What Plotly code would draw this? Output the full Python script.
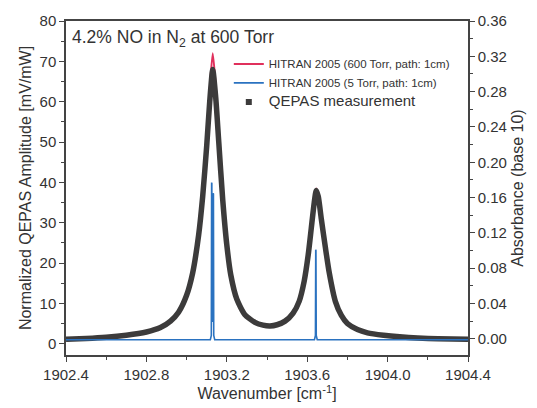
import plotly.graph_objects as go

# Wavenumber grid (cm^-1) and normalized QEPAS signal (mV/mW)
qepas_wn = [1902.40, 1902.50, 1902.60, 1902.70, 1902.80, 1902.87, 1902.92, 1902.96,
            1903.00, 1903.03, 1903.06, 1903.08, 1903.10, 1903.115, 1903.13, 1903.145,
            1903.16, 1903.18, 1903.20, 1903.22, 1903.25, 1903.29, 1903.34, 1903.38,
            1903.415, 1903.45, 1903.49, 1903.53, 1903.56, 1903.585, 1903.605, 1903.62,
            1903.635, 1903.645, 1903.655, 1903.67, 1903.69, 1903.71, 1903.74, 1903.77,
            1903.80, 1903.85, 1903.90, 1903.98, 1904.06, 1904.15, 1904.25, 1904.40]
qepas_amp = [1.1, 1.3, 1.6, 2.1, 2.9, 4.0, 5.6, 7.8,
             12.0, 17.5, 27.0, 36.5, 49.0, 60.0, 68.0, 61.0,
             50.0, 35.5, 24.5, 17.0, 11.0, 7.2, 5.3, 4.6,
             4.4, 4.7, 5.6, 7.6, 10.5, 15.5, 22.0, 28.5,
             35.0, 38.0, 36.5, 31.0, 24.0, 17.5, 10.5, 7.0,
             5.0, 3.5, 2.7, 2.1, 1.7, 1.4, 1.2, 1.1]

# HITRAN 2005 simulation, 600 Torr (scaled to the left axis)
hitran600_wn = qepas_wn
hitran600_amp = [1.2, 1.4, 1.7, 2.2, 3.0, 4.1, 5.7, 7.9,
                 12.2, 17.8, 27.5, 37.5, 51.0, 63.0, 72.0, 64.0,
                 52.0, 36.5, 25.0, 17.2, 11.1, 7.3, 5.3, 4.6,
                 4.4, 4.7, 5.6, 7.6, 10.6, 15.7, 22.3, 29.0,
                 35.5, 38.5, 37.0, 31.4, 24.3, 17.7, 10.6, 7.0,
                 5.0, 3.5, 2.6, 2.0, 1.6, 1.3, 1.1, 1.0]

# HITRAN 2005 simulation, 5 Torr (absorbance, right axis)
hitran5_wn = [1902.40, 1903.118, 1903.123, 1903.1245, 1903.1255, 1903.127, 1903.1305,
              1903.1325, 1903.1335, 1903.135, 1903.140, 1903.636, 1903.641,
              1903.6425, 1903.6435, 1903.645, 1903.650, 1904.40]
hitran5_abs = [-0.001, -0.001, 0.004, 0.177, 0.176, 0.02, 0.02,
               0.165, 0.164, 0.004, -0.001, -0.001, 0.004,
               0.101, 0.100, 0.004, -0.001, -0.001]

x_ticks = [1902.4, 1902.8, 1903.2, 1903.6, 1904.0, 1904.4]

FONT = "Liberation Sans, Arial, sans-serif"
AXIS_COLOR = "#444444"
TEXT_COLOR = "#333333"
RED = "#e0305c"
BLUE = "#2a72c0"
DARK = "#3c3b3b"

fig = go.Figure()

fig.add_trace(go.Scatter(
    x=hitran600_wn, y=hitran600_amp, mode="lines",
    line=dict(color=RED, width=2, shape="spline", smoothing=0.6),
    name="HITRAN 2005 (600 Torr, path: 1cm)", yaxis="y"))

fig.add_trace(go.Scatter(
    x=qepas_wn, y=qepas_amp, mode="lines",
    line=dict(color=DARK, width=5.5, shape="spline", smoothing=0.6),
    name="QEPAS measurement", showlegend=False, yaxis="y"))

fig.add_trace(go.Scatter(
    x=hitran5_wn, y=hitran5_abs, mode="lines",
    line=dict(color=BLUE, width=1.6),
    name="HITRAN 2005 (5 Torr, path: 1cm)", yaxis="y2"))

# legend entry for the measurement, shown as a square symbol
fig.add_trace(go.Scatter(
    x=[None], y=[None], mode="markers",
    marker=dict(symbol="square", size=6, color=DARK),
    name="<span style='font-size:15px'>QEPAS measurement</span>", yaxis="y"))

axis_common = dict(
    showline=True, linecolor=AXIS_COLOR, linewidth=1.5,
    ticks="outside", ticklen=5, tickwidth=1.3, tickcolor=AXIS_COLOR,
    showgrid=False, zeroline=False,
    tickfont=dict(family=FONT, size=15, color=TEXT_COLOR),
)

fig.update_layout(
    width=537, height=408,
    margin=dict(l=66, r=69, t=20, b=45),
    paper_bgcolor="white", plot_bgcolor="white",
    font=dict(family=FONT, color=TEXT_COLOR),
    xaxis=dict(
        range=[1902.4, 1904.4], tickvals=x_ticks,
        ticktext=[f"{v:.1f}" for v in x_ticks],
        minor=dict(ticks="outside", ticklen=3, dtick=0.2, tick0=1902.4,
                   tickcolor=AXIS_COLOR, tickwidth=1.2),
        mirror=True,
        title=dict(text="Wavenumber [cm<sup>-1</sup>]",
                   font=dict(family=FONT, size=16, color=TEXT_COLOR), standoff=2),
        **axis_common),
    yaxis=dict(
        range=[-2.8, 80], dtick=10, tick0=0,
        minor=dict(ticks="outside", ticklen=3, dtick=5, tick0=0,
                   tickcolor=AXIS_COLOR, tickwidth=1.2),
        title=dict(text="Normalized QEPAS Amplitude [mV/mW]",
                   font=dict(family=FONT, size=16, color=TEXT_COLOR), standoff=4),
        **axis_common),
    yaxis2=dict(
        range=[-0.0183, 0.36], dtick=0.04, tick0=0, tickformat=".2f",
        overlaying="y", side="right",
        minor=dict(ticks="outside", ticklen=3, dtick=0.02, tick0=0,
                   tickcolor=AXIS_COLOR, tickwidth=1.2),
        title=dict(text="Absorbance (base 10)",
                   font=dict(family=FONT, size=16, color=TEXT_COLOR), standoff=6),
        **axis_common),
    legend=dict(
        x=0.405, y=0.915, xanchor="left", yanchor="top",
        bgcolor="rgba(0,0,0,0)", borderwidth=0,
        font=dict(family=FONT, size=11.5, color=TEXT_COLOR),
        tracegroupgap=0, itemwidth=30),
    showlegend=True,
    annotations=[dict(
        text="4.2% NO in N<sub>2</sub> at 600 Torr",
        xref="paper", yref="paper", x=0.0, y=1.0, xanchor="left", yanchor="top",
        xshift=4, yshift=-4, showarrow=False,
        font=dict(family=FONT, size=17.5, color=TEXT_COLOR))],
)

fig.write_html("out.html")
